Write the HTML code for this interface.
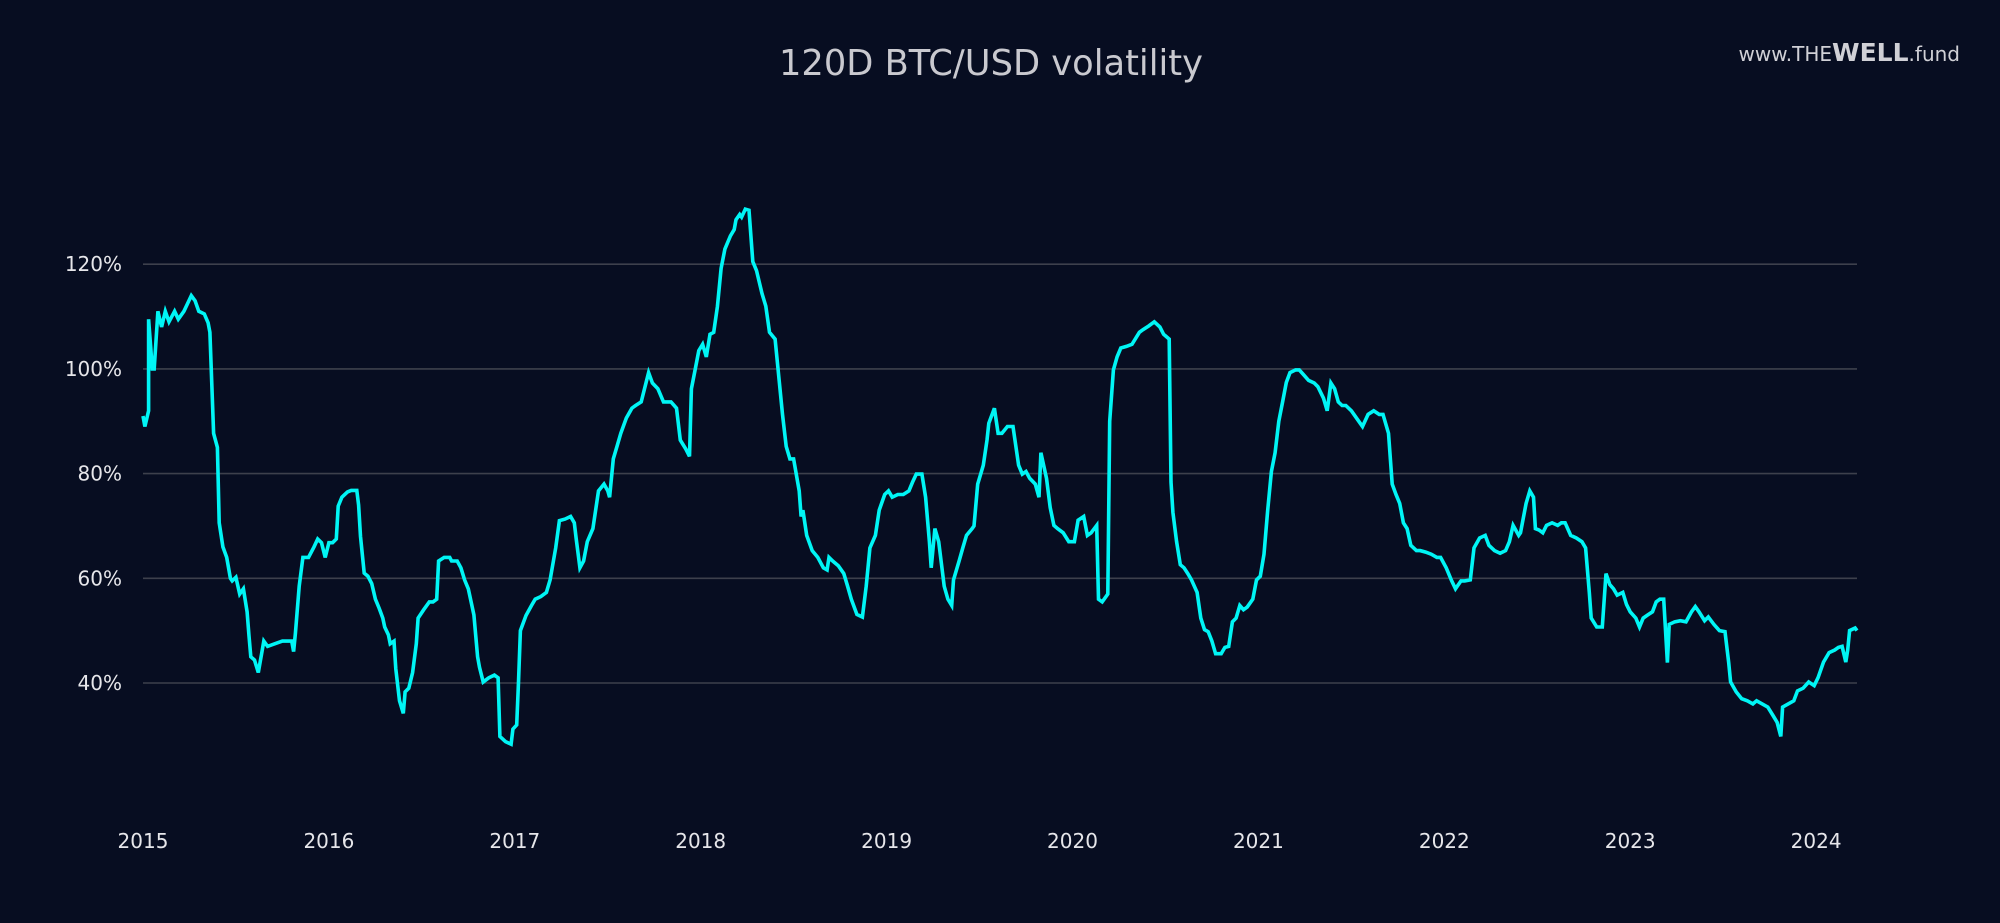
<!DOCTYPE html>
<html><head><meta charset="utf-8"><style>
html,body{margin:0;padding:0;background:#070d21;}
svg{display:block;}
text{font-family:"DejaVu Sans","Liberation Sans",sans-serif;}
</style></head><body>
<svg id="chart" width="2000" height="923" viewBox="0 0 2000 923" xmlns="http://www.w3.org/2000/svg">
<rect width="2000" height="923" fill="#070d21"/>
<text x="779" y="75" font-size="36" fill="#c9c9cf" textLength="424" lengthAdjust="spacingAndGlyphs">120D BTC/USD volatility</text>
<text x="1960" y="61" font-size="20" fill="#d0d0d6" text-anchor="end">www.<tspan>THE</tspan><tspan font-size="25" font-weight="bold">WELL</tspan>.fund</text>
<g id="grid"></g>
<g id="yticks"></g>
<g id="xticks"></g>
<g id="series"></g>
</svg>
<script>
const yTicks = [40, 60, 80, 100, 120];
const xTickYears = [0,1,2,3,4,5,6,7,8,9];
const xTickLabels = ["2015","2016","2017","2018","2019","2020","2021","2022","2023","2024"];
const times = [0.00,.01,.03,.03,.05,.06,.08,.10,.12,.14,.17,.19,.22,.24,.26,.28,.30,.33,.35,.36,.38,.40,.41,.43,.45,.47,.48,.50,.52,.54,.56,.57,.58,.60,.62,.64,.65,.67,.71,.75,.80,.81,.82,.84,.86,.89,.92,.94,.96,.98,1.00,1.02,1.04,1.05,1.07,1.10,1.12,1.15,1.16,1.17,1.19,1.21,1.23,1.25,1.27,1.29,1.30,1.32,1.33,1.35,1.36,1.38,1.40,1.41,1.43,1.45,1.47,1.48,1.51,1.54,1.56,1.58,1.59,1.62,1.65,1.66,1.69,1.71,1.73,1.75,1.78,1.80,1.81,1.83,1.86,1.89,1.91,1.92,1.95,1.98,1.99,2.01,2.02,2.03,2.06,2.09,2.11,2.14,2.17,2.19,2.22,2.24,2.27,2.30,2.32,2.33,2.35,2.37,2.39,2.42,2.45,2.48,2.50,2.51,2.53,2.55,2.57,2.60,2.63,2.65,2.68,2.72,2.74,2.77,2.80,2.84,2.87,2.89,2.92,2.94,2.95,2.97,2.99,3.01,3.03,3.05,3.07,3.09,3.11,3.13,3.16,3.18,3.19,3.21,3.22,3.24,3.26,3.28,3.30,3.33,3.35,3.37,3.40,3.44,3.46,3.48,3.50,3.53,3.54,3.55,3.57,3.60,3.63,3.66,3.68,3.69,3.71,3.74,3.77,3.79,3.81,3.84,3.87,3.89,3.91,3.94,3.96,3.99,4.01,4.03,4.06,4.09,4.12,4.14,4.16,4.19,4.21,4.23,4.24,4.26,4.28,4.31,4.33,4.35,4.36,4.39,4.41,4.43,4.46,4.47,4.49,4.52,4.54,4.55,4.58,4.60,4.62,4.65,4.68,4.71,4.73,4.75,4.77,4.80,4.82,4.83,4.86,4.88,4.90,4.92,4.95,4.98,5.01,5.03,5.06,5.08,5.10,5.13,5.14,5.16,5.19,5.20,5.22,5.24,5.26,5.29,5.32,5.36,5.38,5.41,5.44,5.47,5.49,5.52,5.53,5.54,5.56,5.58,5.60,5.62,5.64,5.67,5.69,5.71,5.73,5.75,5.77,5.80,5.82,5.84,5.86,5.88,5.90,5.92,5.94,5.97,5.99,6.01,6.03,6.05,6.07,6.09,6.11,6.13,6.15,6.17,6.20,6.22,6.24,6.27,6.30,6.32,6.35,6.37,6.39,6.41,6.43,6.45,6.47,6.50,6.54,6.56,6.59,6.62,6.65,6.67,6.70,6.72,6.74,6.76,6.78,6.80,6.82,6.85,6.87,6.90,6.93,6.96,6.98,7.01,7.04,7.06,7.09,7.11,7.14,7.16,7.19,7.22,7.24,7.27,7.30,7.33,7.35,7.37,7.40,7.41,7.44,7.46,7.48,7.49,7.51,7.53,7.55,7.58,7.61,7.63,7.65,7.68,7.71,7.74,7.76,7.78,7.79,7.82,7.85,7.87,7.89,7.91,7.93,7.96,7.98,8.00,8.03,8.05,8.07,8.09,8.12,8.14,8.16,8.18,8.20,8.21,8.24,8.27,8.30,8.33,8.35,8.37,8.40,8.42,8.45,8.48,8.51,8.53,8.54,8.57,8.60,8.63,8.66,8.68,8.71,8.74,8.77,8.79,8.81,8.82,8.85,8.88,8.90,8.93,8.96,8.99,9.01,9.04,9.07,9.10,9.12,9.14,9.16,9.17,9.18,9.21,9.22];
const vols = [91,89,92,109.5,100,100,111,108,111,109,111,109.5,111,112.5,114,113,111,110.5,108.8,107,87.7,85,70.6,66,64,60,59.5,60.2,57,58,53.6,49,45,44.4,42,46,48,47,47.5,48,48,46,49.5,58.5,64,64,66,67.5,66.8,64,66.8,66.8,67.5,73.8,75.5,76.5,76.8,76.8,74,68,61,60.4,59,56,54.3,52.4,50.7,49.2,47.5,48,42.7,36.6,34.2,38.3,39,42,47.5,52.4,54,55.5,55.5,56,63.3,64,64,63.3,63.3,62,59.7,58,53,45,43,40.2,41,41.5,41,29.8,28.8,28.3,31.2,32,40.2,50,52.9,54.8,56,56.5,57.3,59.7,65.8,71,71.3,71.8,70.6,67.7,62,63.3,67,69.5,76.7,78,76.7,75.5,82.8,85.2,87.7,90.6,92.5,93,93.7,99.3,97.3,96.2,93.7,93.7,92.5,86.4,84.7,83.3,96.2,99.8,103.5,104.7,102.3,106.6,107,111.9,119.2,122.9,125.4,126.6,128.5,129.5,129,130.5,130.3,120.5,118.8,114.4,112,107,105.7,91.3,85.2,82.8,82.8,76.7,71.8,73,68.2,65.3,64,62,61.6,64,63.3,62.4,60.9,58.5,56,53.1,52.6,58.5,65.8,68.2,73,76,76.7,75.5,76,76,76.7,78.4,79.9,79.9,75.5,67,62,69.5,67,58.5,56,54.8,59.7,63.3,65.8,68.2,69.5,70,78,81.6,86.4,89.6,92.5,87.7,87.7,89,89,81.6,79.9,80.4,79.1,78,75.5,84,79.1,73.5,70.1,69.5,68.7,67,67,71.1,71.8,68.2,68.7,70.1,56,55.5,57,90,99.8,102.3,104,104.3,104.7,107,107.5,108.2,109,108,106.6,105.7,78.4,72.6,67,62.6,62,60.9,59.7,57.3,52.4,50.2,49.8,48,45.6,45.6,46.8,47,51.7,52.4,54.8,54,54.5,56,59.7,60.4,64.6,73,80.4,84,90,93.7,97.4,99.3,99.8,99.8,99,97.8,97.3,96.6,94.4,92,97.3,96.2,93.7,93,93,92,90,89,91.3,92,91.3,91.3,87.7,78,76,74.3,70.6,69.5,66.3,65.3,65.3,65,64.6,64,64,62,59.5,58,59.5,59.5,59.7,65.8,67.7,68.2,66.3,65.3,64.8,65.3,67,70.1,68.2,68.7,74.3,76.7,75.5,69.5,69.2,68.7,70.1,70.6,70.1,70.6,70.6,68.2,67.7,67,65.8,57.3,52.4,50.7,50.7,60.9,58.8,58,56.8,57.3,55,53.6,52.4,50.7,52.4,52.9,53.6,55.5,56,56,43.9,51.2,51.7,51.9,51.7,53.6,54.6,53.6,51.9,52.6,51.2,50,49.8,43.9,40.2,38.3,37,36.6,36,36.6,36,35.4,33.7,32.5,29.8,35.4,36,36.6,38.5,39,40.2,39.5,41,44,45.8,46.3,46.8,47,44,46.3,50,50.5,50];

const NS = "http://www.w3.org/2000/svg";
const X0 = 143, PX_PER_YEAR = 185.9, PLOT_RIGHT = 1857;
function xScale(t){ return X0 + t*PX_PER_YEAR; }
function yScale(v){ return 683 - (v-40)*5.235; }

const grid = document.getElementById('grid');
const yg = document.getElementById('yticks');
yTicks.forEach(v=>{
  const l = document.createElementNS(NS,'line');
  l.setAttribute('x1',X0); l.setAttribute('x2',PLOT_RIGHT);
  l.setAttribute('y1',yScale(v)); l.setAttribute('y2',yScale(v));
  l.setAttribute('stroke','#3d404c'); l.setAttribute('stroke-width','1.6');
  
  
  grid.appendChild(l);
  const t = document.createElementNS(NS,'text');
  t.setAttribute('x',122); t.setAttribute('y',yScale(v)+7);
  t.setAttribute('font-size','20'); t.setAttribute('fill','#e6e6ea');
  t.setAttribute('text-anchor','end');
  t.textContent = v + '%';
  
  
  yg.appendChild(t);
});
const xg = document.getElementById('xticks');
xTickYears.forEach((yr,i)=>{
  const t = document.createElementNS(NS,'text');
  t.setAttribute('x',xScale(yr)); t.setAttribute('y',848);
  t.setAttribute('font-size','20'); t.setAttribute('fill','#e6e6ea');
  t.setAttribute('text-anchor','middle');
  t.textContent = xTickLabels[i];
  
  
  xg.appendChild(t);
});
const sg = document.getElementById('series');
let d = '';
times.forEach((t,i)=>{ d += (i?'L':'M') + xScale(t).toFixed(1) + ',' + yScale(vols[i]).toFixed(1); });
const p = document.createElementNS(NS,'path');
p.setAttribute('d',d); p.setAttribute('fill','none');
p.setAttribute('stroke','#00f5f5'); p.setAttribute('stroke-width','3.6');
p.setAttribute('stroke-linejoin','miter');


sg.appendChild(p);
</script>
</body></html>
